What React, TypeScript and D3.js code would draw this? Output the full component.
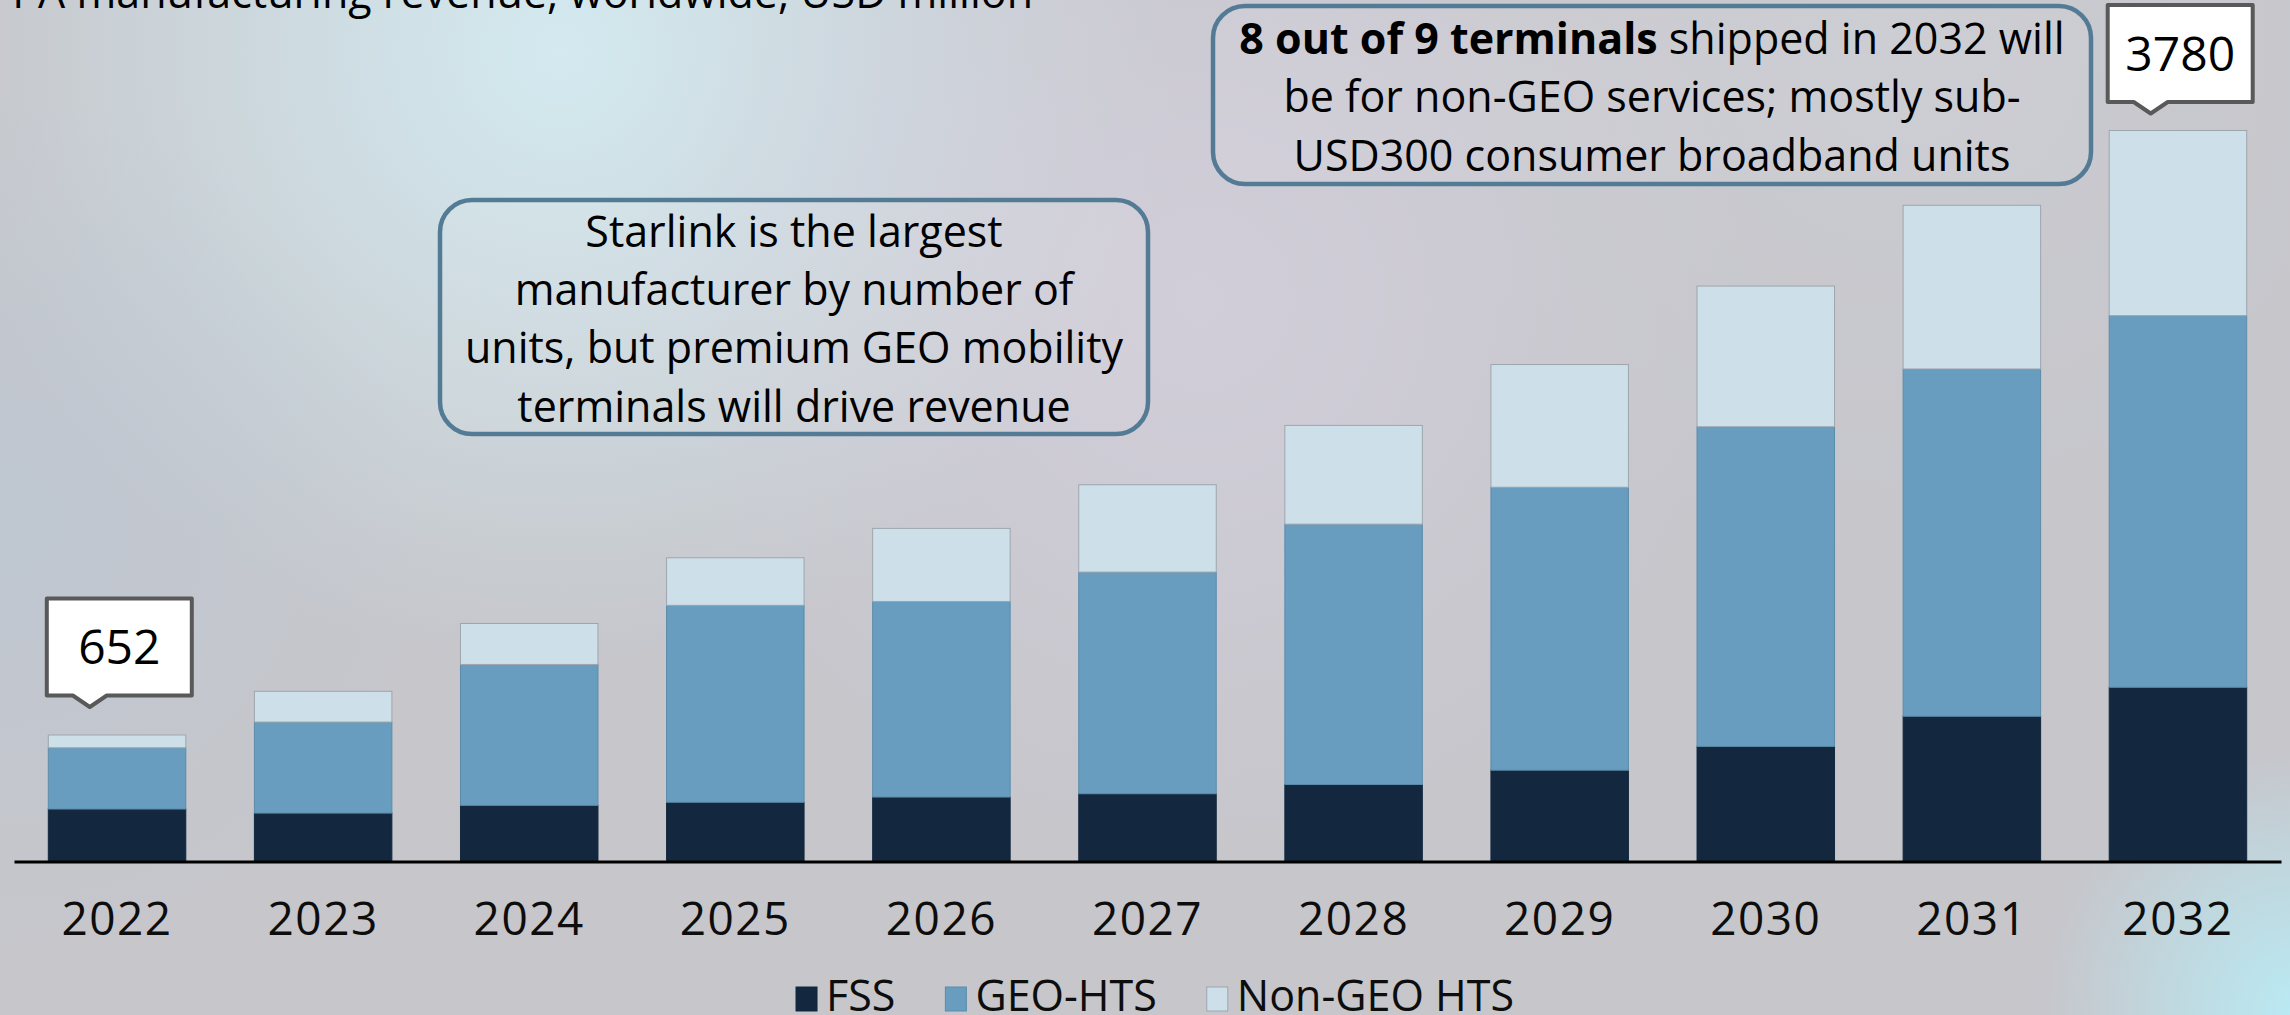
import React, { useEffect, useRef } from "react";
import * as d3 from "d3";

// ---------- data ----------
const years = ["2022", "2023", "2024", "2025", "2026", "2027", "2028", "2029", "2030", "2031", "2032"];
const fss = [269, 248, 288, 304, 331, 348, 396, 470, 593, 749, 899];
const geoHts = [317, 471, 729, 1019, 1012, 1147, 1347, 1464, 1654, 1797, 1923];
const nonGeoHts = [66, 159, 212, 246, 378, 452, 511, 635, 728, 847, 958];
const seriesNames = ["FSS", "GEO-HTS", "Non-GEO HTS"];
const seriesColors = ["#13283f", "#689dbf", "#cddfe9"];
const seriesStrokes = ["#13283f", "#5b8cab", "#9ea6ad"];
const calloutYears = ["2022", "2032"];
const calloutGaps = [28, 17];
const titleText = "FPA manufacturing revenue, worldwide, USD million";
const note1Lines = [
  "Starlink is the largest",
  "manufacturer by number of",
  "units, but premium GEO mobility",
  "terminals will drive revenue",
];
const note2Lines: { t: string; b: boolean }[][] = [
  [
    { t: "8 out of 9 terminals", b: true },
    { t: " shipped in 2032 will", b: false },
  ],
  [{ t: "be for non-GEO services; mostly sub-", b: false }],
  [{ t: "USD300 consumer broadband units", b: false }],
];

const FONT = "'Open Sans', 'Liberation Sans', Arial, sans-serif";

export default function App() {
  const ref = useRef<SVGSVGElement>(null);

  useEffect(() => {
    document.body.style.margin = "0";
    const W = 2290;
    const H = 1015;
    const svg = d3.select(ref.current);
    svg.selectAll("*").remove();
    const defs = svg.append("defs");

    // ---------- background ----------
    svg.append("rect").attr("width", W).attr("height", H).attr("fill", "#c6c6cb");
    const glows = [
      { id: "g1", cx: 560, cy: 50, r: 620, c: "rgb(212,236,242)", o: 0.95 },
      { id: "g2", cx: 1200, cy: 300, r: 560, c: "rgb(214,209,224)", o: 0.7 },
      { id: "g3", cx: 0, cy: 520, r: 420, c: "rgb(186,200,214)", o: 0.6 },
      { id: "g4", cx: 2300, cy: 1010, r: 260, c: "rgb(185,236,246)", o: 0.95 },
      { id: "g5", cx: 1900, cy: 40, r: 520, c: "rgb(206,208,214)", o: 0.5 },
    ];
    glows.forEach((g) => {
      const rg = defs
        .append("radialGradient")
        .attr("id", g.id)
        .attr("gradientUnits", "userSpaceOnUse")
        .attr("cx", g.cx)
        .attr("cy", g.cy)
        .attr("r", g.r);
      rg.append("stop").attr("offset", "0%").attr("stop-color", g.c).attr("stop-opacity", g.o);
      rg.append("stop").attr("offset", "100%").attr("stop-color", g.c).attr("stop-opacity", 0);
      svg.append("rect").attr("width", W).attr("height", H).attr("fill", `url(#${g.id})`);
    });

    // ---------- scales ----------
    const x = d3
      .scaleBand<string>()
      .domain(years)
      .range([14, 2281])
      .paddingInner(0.328)
      .paddingOuter(0.164);
    const y = d3.scaleLinear().domain([0, 3780]).range([861, 130.5]);

    const rows = years.map((yr, i) => ({
      year: yr,
      FSS: fss[i],
      "GEO-HTS": geoHts[i],
      "Non-GEO HTS": nonGeoHts[i],
    }));
    const stacked = d3.stack<any>().keys(seriesNames)(rows);

    stacked.forEach((layer, li) => {
      svg
        .append("g")
        .selectAll("rect")
        .data(layer)
        .join("rect")
        .attr("x", (d: any) => x(d.data.year)! + 0.5)
        .attr("width", x.bandwidth() - 1)
        .attr("y", (d: any) => y(d[1]))
        .attr("height", (d: any) => y(d[0]) - y(d[1]))
        .attr("fill", seriesColors[li])
        .attr("stroke", seriesStrokes[li])
        .attr("stroke-width", 1);
    });

    // ---------- axis ----------
    const axisG = svg
      .append("g")
      .attr("transform", "translate(0,861.5)")
      .call(d3.axisBottom(x).tickSize(0).tickSizeOuter(0).tickPadding(41));
    axisG.select(".domain").attr("stroke", "#000").attr("stroke-width", 3);
    axisG
      .selectAll("text")
      .attr("font-family", FONT)
      .attr("font-size", 46)
      .attr("fill", "#0d0d0d")
      .attr("letter-spacing", 1.5);

    // ---------- callouts ----------
    calloutYears.forEach((yr, ci) => {
      const i = years.indexOf(yr);
      const total = fss[i] + geoHts[i] + nonGeoHts[i];
      const bx = x(yr)!;
      const tipX = bx + 42;
      const tipY = y(total) - calloutGaps[ci];
      const bottom = tipY - 11.5;
      const top = bottom - 97;
      const left = bx - 1;
      const right = bx + 144;
      const p = d3.path();
      p.moveTo(left, top);
      p.lineTo(right, top);
      p.lineTo(right, bottom);
      p.lineTo(tipX + 17, bottom);
      p.lineTo(tipX, tipY);
      p.lineTo(tipX - 17, bottom);
      p.lineTo(left, bottom);
      p.closePath();
      svg
        .append("path")
        .attr("d", p.toString())
        .attr("fill", "#ffffff")
        .attr("stroke", "#595959")
        .attr("stroke-width", 4)
        .attr("stroke-linejoin", "round");
      svg
        .append("text")
        .attr("x", (left + right) / 2)
        .attr("y", (top + bottom) / 2 + 17)
        .attr("text-anchor", "middle")
        .attr("font-family", FONT)
        .attr("font-size", 48)
        .attr("fill", "#000")
        .text(String(total));
    });

    // ---------- notes ----------
    const noteBox = (bx: number, by: number, bw: number, bh: number) =>
      svg
        .append("rect")
        .attr("x", bx)
        .attr("y", by)
        .attr("width", bw)
        .attr("height", bh)
        .attr("rx", 32)
        .attr("ry", 32)
        .attr("fill", "rgba(255,255,255,0.07)")
        .attr("stroke", "#537b95")
        .attr("stroke-width", 4.5);

    noteBox(440, 200, 708, 234);
    note1Lines.forEach((line, li) => {
      svg
        .append("text")
        .attr("x", 794)
        .attr("y", 246.7 + li * 58.3)
        .attr("text-anchor", "middle")
        .attr("font-family", FONT)
        .attr("font-size", 43)
        .attr("fill", "#000")
        .text(line);
    });

    noteBox(1213, 6, 878, 178);
    note2Lines.forEach((parts, li) => {
      const t = svg
        .append("text")
        .attr("x", 1652)
        .attr("y", 54.1 + li * 58.3)
        .attr("text-anchor", "middle")
        .attr("font-family", FONT)
        .attr("font-size", 43)
        .attr("fill", "#000");
      parts.forEach((pt) => {
        t.append("tspan")
          .attr("font-weight", pt.b ? 700 : 400)
          .text(pt.t);
      });
    });

    // ---------- title (cut at top, as in the source) ----------
    svg
      .append("text")
      .attr("x", 1033)
      .attr("y", 8)
      .attr("text-anchor", "end")
      .attr("font-family", FONT)
      .attr("font-size", 43)
      .attr("fill", "#000")
      .text(titleText);

    // ---------- legend ----------
    const lg = svg.append("g");
    let cursor = 0;
    seriesNames.forEach((name, i) => {
      lg.append("rect")
        .attr("x", cursor)
        .attr("y", 987)
        .attr("width", 21)
        .attr("height", 24)
        .attr("fill", seriesColors[i])
        .attr("stroke", seriesStrokes[i])
        .attr("stroke-width", 1);
      const t = lg
        .append("text")
        .attr("x", cursor + 30)
        .attr("y", 1011)
        .attr("font-family", FONT)
        .attr("font-size", 43)
        .attr("fill", "#0d0d0d")
        .text(name);
      const w = (t.node() as SVGTextElement).getComputedTextLength();
      cursor += 30 + w + (i < seriesNames.length - 1 ? 50 : 0);
    });
    lg.attr("transform", `translate(${1155 - cursor / 2},0)`);
  }, []);

  return (
    <svg
      ref={ref}
      width={2290}
      height={1015}
      style={{ position: "absolute", left: 0, top: 0, display: "block" }}
    />
  );
}
